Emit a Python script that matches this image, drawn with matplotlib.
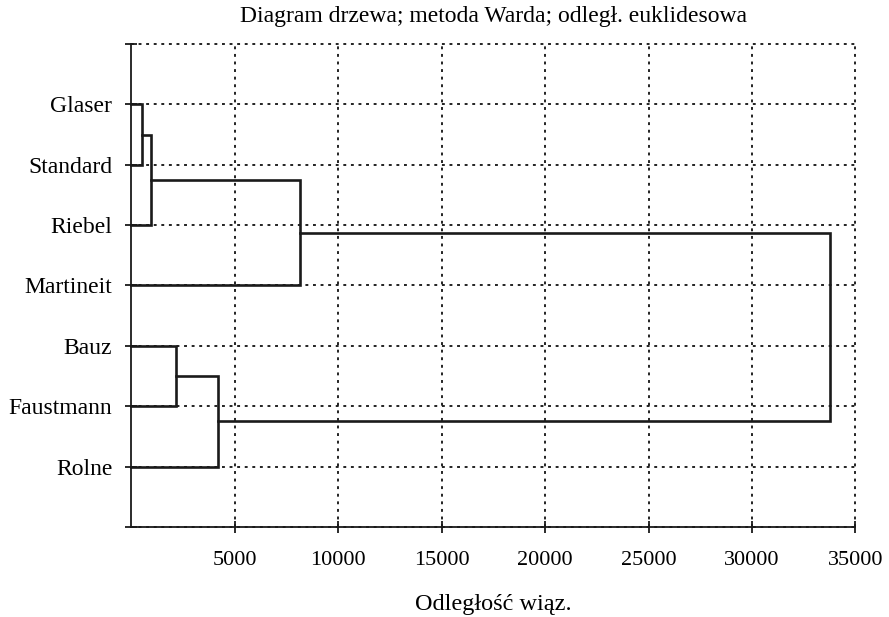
import matplotlib
matplotlib.use("Agg")
import matplotlib.pyplot as plt
import numpy as np

# ============================================
# DATA
# ============================================
leaves = ["Glaser", "Standard", "Riebel", "Martineit", "Bauz", "Faustmann", "Rolne"]

# merges: child ids (0..6 = leaves, 7.. = earlier merges), linkage distance
merge_left = [0, 7, 8, 4, 10, 9]
merge_right = [1, 2, 3, 5, 6, 11]
merge_height = [530, 980, 8150, 2180, 4190, 33750]

x_ticks = [5000, 10000, 15000, 20000, 25000, 30000, 35000]

title = "Diagram drzewa; metoda Warda; odległ. euklidesowa"
xlabel = "Odległość wiąz."

# ============================================
# PLOT
# ============================================
plt.rcParams["font.family"] = ["Liberation Serif", "DejaVu Serif"]

fig = plt.figure(figsize=(8.89, 6.17), dpi=100)
ax = fig.add_axes([0.1474, 0.1459, 0.8149, 0.7828])

# node positions: (y, height)
pos = {i: (i + 1, 0.0) for i in range(len(leaves))}
for k, (a, b, h) in enumerate(zip(merge_left, merge_right, merge_height)):
    ya, ha = pos[a]
    yb, hb = pos[b]
    ax.plot([ha, h, h, hb], [ya, ya, yb, yb], color="#1a1a1a", lw=1.9,
            solid_joinstyle="miter", zorder=3, clip_on=False)
    pos[len(leaves) + k] = ((ya + yb) / 2, h)

ax.set_xlim(0, 35000)
ax.set_ylim(8, 0)
ax.set_xticks(x_ticks)
ax.set_yticks(range(0, 9))
ax.set_yticklabels([""] + leaves + [""])

ax.grid(True, linestyle=(0, (1.6, 2.6)), color="#111111", lw=1.3)
ax.set_axisbelow(True)
for gl in ax.get_xgridlines() + ax.get_ygridlines():
    gl.set_clip_on(False)
for s in ["top", "right"]:
    ax.spines[s].set_visible(False)
for s in ["left", "bottom"]:
    ax.spines[s].set_linewidth(1.3)
    ax.spines[s].set_color("#1a1a1a")
    ax.spines[s].set_zorder(4)

ax.tick_params(axis="both", direction="inout", length=9, width=1.3, color="#1a1a1a")
ax.tick_params(axis="y", labelsize=17, pad=9)
ax.tick_params(axis="x", labelsize=16, pad=13)

ax.set_title(title, fontsize=17, pad=16)
ax.set_xlabel(xlabel, fontsize=17.5, labelpad=17)

fig.savefig("out.png", dpi=100)
